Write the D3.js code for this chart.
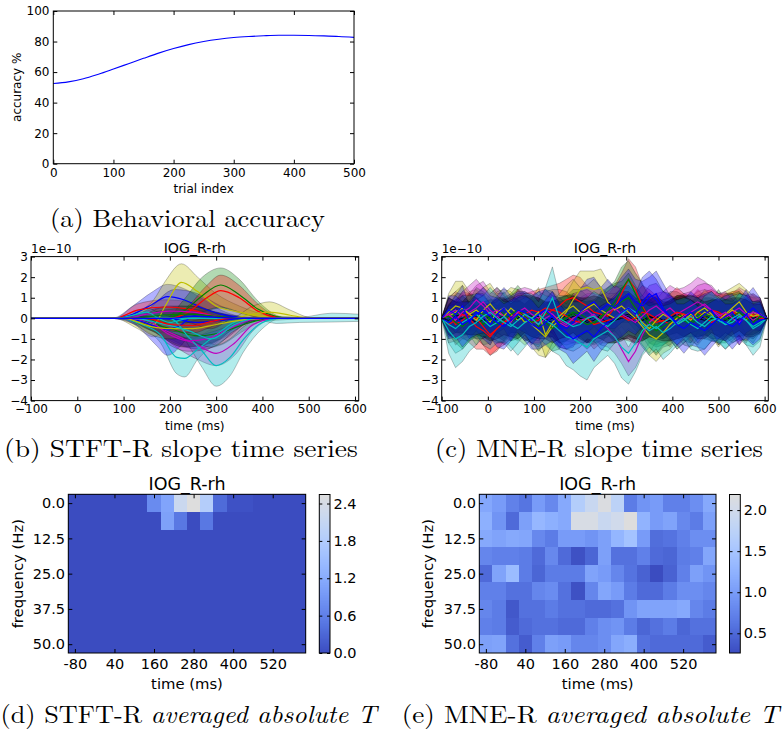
<!DOCTYPE html>
<html>
<head>
<meta charset="utf-8">
<script src="https://cdn.jsdelivr.net/npm/d3@7"></script>
<style>
  body { margin: 0; background: #fff; }
  svg { display: block; }
</style>
</head>
<body>
<svg id="fig" width="784" height="736"></svg>
<script>
// ===================== data =====================

// (a) behavioural accuracy over trials
const trialIndex  = [0,25,50,75,100,125,150,175,200,225,250,275,300,325,350,375,400,425,450,475,500];
const accuracyPct = [52.5,53.6,55.6,58.6,62.0,65.5,69.0,72.4,75.4,78.0,80.0,81.5,82.6,83.3,83.8,84.1,84.1,84.0,83.7,83.3,82.7];
const accTicksX = [0,100,200,300,400,500];
const accTicksY = [0,20,40,60,80,100];

// (b) STFT-R slope time series, knots [time ms, lower, mean, upper] in units of 1e-10
const slopeTicksX = [-100,0,100,200,300,400,500,600];
const slopeTicksY = [-4,-3,-2,-1,0,1,2,3];
const stftSeries = [
  {color:'b', knots:[[75,0,0,0],[120,-0.25,0.2,0.6],[160,-0.6,0.65,1.25],[195,-0.7,1.05,1.65],[230,-0.5,0.9,1.45],[270,-0.2,0.5,0.95],[310,0,0.2,0.4],[350,0,0.05,0.1],[380,0,0,0]]},
  {color:'g', knots:[[100,0,0,0],[150,-0.5,-0.2,0.1],[200,-1.0,-0.5,0],[260,-1.5,-0.85,-0.2],[310,-1.3,-0.7,-0.1],[360,-0.6,-0.3,0],[420,0,0,0]]},
  {color:'r', knots:[[80,0,0,0],[130,0.1,0.4,0.7],[190,0.2,0.55,0.9],[240,0.1,0.45,0.8],[290,0,0.15,0.35],[330,0,0,0]]},
  {color:'c', knots:[[90,0,0,0],[140,-0.5,-0.3,-0.1],[180,-1.2,-0.8,-0.4],[215,-2.7,-1.9,-1.0],[232,-2.85,-1.95,-1.1],[260,-2.0,-1.5,-0.9],[300,-1.2,-0.8,-0.4],[350,-0.3,-0.1,0],[400,0,0,0]]},
  {color:'m', knots:[[110,0,0,0],[160,-0.5,-0.3,-0.1],[220,-1.5,-0.9,-0.4],[260,-2.0,-1.3,-0.7],[300,-2.3,-1.7,-1.05],[340,-1.8,-1.2,-0.6],[380,-0.6,-0.3,0],[430,0,0,0]]},
  {color:'y', knots:[[80,0,0,0],[130,-0.5,-0.1,0.3],[165,-0.9,-0.3,0.9],[190,-0.5,0.6,1.8],[225,0.3,1.75,2.65],[260,0.2,1.3,2.0],[300,0.1,0.6,1.2],[350,0,0.3,0.6],[400,0,0.1,0.2],[440,0,0,0]]},
  {color:'b', knots:[[90,0,0,0],[150,-0.4,0,0.4],[210,-1.2,-0.05,1.4],[260,-1.5,-0.2,1.2],[310,-1.0,-0.1,0.6],[360,-0.3,0,0.2],[420,0,0,0]]},
  {color:'b', knots:[[80,0,0,0],[130,-0.4,-0.1,0.2],[170,-1.3,-0.4,0.3],[195,-1.8,-0.55,0.35],[225,-1.3,-0.3,0.4],[250,-0.6,0.1,0.6],[300,-0.2,0.08,0.3],[350,0,0.02,0.1],[400,0,0,0]]},
  {color:'g', knots:[[190,0,0,0],[230,0,0.35,0.9],[270,0.3,1.1,2.0],[310,0.5,1.62,2.45],[350,0.3,1.15,1.9],[390,0.05,0.45,0.85],[430,0,0.08,0.15],[460,0,0,0]]},
  {color:'r', knots:[[200,0,0,0],[240,0.05,0.3,0.6],[280,0.4,1.0,1.6],[310,0.55,1.35,2.1],[350,0.3,1.0,1.6],[390,0.05,0.35,0.7],[430,0,0.05,0.1],[460,0,0,0]]},
  {color:'c', knots:[[200,0,0,0],[240,-1.3,-0.9,-0.5],[270,-2.4,-1.6,-0.9],[300,-3.3,-2.3,-1.3],[330,-2.8,-1.9,-1.0],[360,-1.6,-1.0,-0.4],[400,-0.5,-0.2,0],[440,0,0,0]]},
  {color:'m', knots:[[100,0,0,0],[150,-0.3,-0.1,0.1],[200,-1.3,-0.8,-0.3],[240,-1.6,-1.1,-0.6],[280,-1.5,-1.0,-0.5],[320,-1.0,-0.6,-0.2],[370,-0.2,-0.1,0],[420,0,0,0]]},
  {color:'y', knots:[[100,0,0,0],[160,-0.8,-0.4,0],[200,-1.0,-0.5,0],[250,-0.9,-0.5,-0.1],[300,-0.6,-0.3,0],[350,-0.2,-0.1,0],[400,0,0,0]]},
  {color:'k', knots:[[90,0,0,0],[160,-0.6,-0.2,0.3],[230,-1.4,-0.5,0.5],[290,-1.2,-0.5,0.3],[340,-0.5,-0.2,0.1],[400,0,0,0]], noLine:true},
  {color:'c', knots:[[120,0,0,0],[180,-0.5,-0.25,0],[240,-1.0,-0.6,-0.2],[290,-1.4,-1.0,-0.5],[340,-0.6,-0.3,0],[390,0,0,0]]},
  {color:'y', knots:[[330,0,0,0],[380,-0.1,0.2,0.6],[415,-0.1,0.3,0.8],[460,-0.05,0.15,0.4],[500,0,0.02,0.05],[530,0,0,0]]},
  {color:'c', knots:[[380,0,0,0],[430,-0.25,0,0.1],[480,-0.2,0,0.05],[550,-0.18,0,0.25],[608,-0.15,0,0.2]]},
  {color:'m', knots:[[100,0,0,0],[150,0.05,0.2,0.35],[200,0.1,0.35,0.6],[250,0.1,0.3,0.55],[300,0,0.1,0.25],[350,0,0,0]]},
  {color:'c', knots:[[80,0,0,0],[120,0,0.15,0.3],[150,0.1,0.3,0.5],[175,-0.3,0,0.3],[200,-0.5,-0.2,0.1],[240,-0.2,0,0.2],[280,0,0,0]]},
  {color:'r', knots:[[150,0,0,0],[200,-0.6,-0.3,0],[250,-0.7,-0.35,0],[290,-0.4,-0.15,0],[330,0,0,0]]},
  {color:'g', knots:[[120,0,0,0],[180,-0.2,0.15,0.5],[240,-0.2,0.2,0.6],[300,-0.1,0.1,0.3],[360,0,0,0]]},
  {color:'b', knots:[[200,0,0,0],[250,0,0.1,0.2],[300,0,0.05,0.1],[350,0,0,0]]}
];

// (c) MNE-R slope time series: mean and half-width of the band, in units of 1e-11
const mneTimesMs = [-100,-85,-70,-55,-40,-25,-10,5,20,35,50,65,80,95,110,125,140,155,170,185,200,215,230,245,
                    260,275,290,305,320,335,350,365,380,395,410,425,440,455,470,485,500,515,530,545,560,575,590,605];
const mneSeries = [
  {color:'r',
   mean:[0,2,-3,-1,2,0,-4,-8,-5,-2, 1,3,2,4,3,5,4,6,9,10, 8,6,3,2,1,5,12,19,14,6, 0,-2,-1,-3,1,2,0,3,1,-2, 0,2,3,1,-1,2,0,0],
   half:[0,8,10,9,11,10,9,10,11,9, 10,11,10,9,11,10,12,11,10,11, 12,10,11,12,10,11,10,10,11,10, 12,11,10,11,10,9,10,11,10,9, 11,10,9,10,11,9,8,0]},
  {color:'y',
   mean:[0,3,6,5,2,4,1,-2,3,5, 2,-1,1,-3,-6,-9,-4,-1,3,9, 14,15,14,15,8,4,6,3,0,-4, -8,-10,-7,-3,0,2,-1,3,5,2, -2,1,4,2,-1,3,1,0],
   half:[0,9,12,13,11,10,9,11,10,9, 11,10,9,11,12,10,11,10,9,9, 9,8,9,9,10,11,10,11,10,9, 10,11,10,12,11,10,11,10,9,11, 12,10,9,11,10,9,8,0]},
  {color:'g',
   mean:[0,-2,3,1,-1,2,-3,0,4,2, -2,1,3,0,-4,-2,-5,-3,1,3, 2,0,-3,1,4,8,14,19,12,5, -1,-4,-2,1,3,0,-2,2,1,-1, 3,0,-2,1,2,-1,1,0],
   half:[0,8,9,11,10,9,10,12,11,10, 9,11,10,11,12,10,11,12,10,11, 12,11,10,12,11,10,11,9,10,12, 11,10,11,12,10,11,10,9,11,10, 11,9,10,11,10,9,8,0]},
  {color:'m',
   mean:[0,2,4,1,3,5,8,4,1,-2, 0,3,2,-1,-3,0,2,-2,-4,-3, -1,0,2,-2,-5,-9,-15,-21,-16,-8, -2,1,3,5,2,4,6,8,6,4, 2,0,3,5,2,-1,1,0],
   half:[0,8,9,10,9,11,10,9,10,11, 10,9,10,11,9,10,11,12,11,10, 11,12,10,11,9,8,7,7,8,9, 10,11,10,11,12,11,11,12,12,11, 10,11,9,10,11,9,8,0]},
  {color:'r',
   mean:[0,-3,-1,2,0,-4,-6,-9,-5,-2, 0,3,1,-2,-1,2,4,3,1,-1, -2,0,-3,-2,-1,0,1,-1,0,3, 2,0,-2,1,3,2,0,-1,2,4, 3,1,3,2,0,1,2,0],
   half:[0,9,10,11,12,11,9,9,10,11, 10,9,11,10,12,11,10,11,12,11, 10,11,12,10,11,12,11,10,12,13, 12,11,10,11,12,10,11,12,11,10, 9,11,10,12,11,9,8,0]},
  {color:'y',
   mean:[0,1,3,5,2,-1,4,7,3,1, 5,2,-2,0,3,-8,-2,1,4,6, 3,5,7,4,2,0,3,5,2,-2, -5,-1,2,0,-3,-1,2,0,3,1, -1,2,5,8,3,1,2,0],
   half:[0,9,10,11,10,12,11,10,9,11, 10,12,11,10,12,11,10,11,12,13, 12,11,12,11,10,12,11,10,9,11, 12,10,11,10,12,11,10,9,11,10, 12,11,10,9,11,10,8,0]},
  {color:'g',
   mean:[0,1,-2,-4,-1,3,2,0,-3,-1, 2,4,1,-2,0,3,1,-2,0,2, -1,-3,-2,0,3,6,8,10,5,1, -3,-6,-4,-2,1,-1,-3,0,2,1, -2,0,1,3,0,-2,1,0],
   half:[0,9,10,11,10,12,11,10,9,11, 10,12,11,10,9,11,10,12,11,10, 11,12,10,11,12,11,10,12,11,10, 11,12,10,11,10,12,11,10,9,11, 10,12,11,10,9,10,8,0]},
  {color:'m',
   mean:[0,2,-1,3,5,9,6,2,4,1, -2,3,5,2,0,4,2,-1,-3,0, 2,4,1,-1,3,5,2,0,-2,1, 4,6,3,0,-2,1,3,5,7,4, 1,3,0,-2,1,3,2,0],
   half:[0,8,9,10,11,10,9,10,11,10, 9,11,10,12,11,10,9,11,10,12, 11,10,11,12,10,11,12,10,11,10, 12,11,10,11,12,11,10,11,10,12, 11,10,9,11,10,9,8,0]},
  {color:'c',
   mean:[0,-3,-5,-2,0,2,-1,-4,-2,1, -3,-5,-2,0,2,-1,-3,-6,-9,-10, -12,-14,-10,-8,-6,-9,-14,-17,-12,-6, -3,-5,-2,0,-3,-1,1,-2,-4,-1, 0,-3,-2,1,-1,-4,-2,0],
   half:[0,9,12,13,11,10,12,11,10,12, 11,13,12,10,11,12,13,12,14,15, 16,16,14,13,12,13,15,15,14,12, 11,12,11,10,12,11,10,12,11,10, 11,12,10,11,12,10,9,0]},
  {color:'k',
   mean:[0,-1,1,2,0,-2,-1,1,0,-1, 2,1,-2,0,1,-1,0,-2,-1,1, 0,-2,-1,2,1,-1,0,1,-2,-1, 0,1,-1,0,2,1,0,-1,1,0, -1,1,0,-1,1,0,1,0],
   half:[0,8,8,9,8,8,9,8,9,10, 9,8,9,10,9,8,9,10,10,10, 9,10,10,10,9,10,10,11,10,10, 9,10,9,8,9,10,9,8,9,10, 9,8,9,8,9,8,7,0]},
  {color:'b',
   mean:[0,4,2,6,-2,3,1,-3,2,5, 0,4,3,-1,2,4,1,-3,-5,-2, 3,6,8,4,7,5,9,12,8,6, 10,12,5,1,-2,0,3,-1,2,4, -2,1,3,-3,2,5,2,0],
   half:[0,7,9,10,8,9,11,10,9,10, 11,9,10,12,11,10,12,11,10,12, 11,13,12,11,12,10,11,12,11,12, 10,11,12,10,11,9,10,11,10,9, 11,10,9,10,9,10,8,0]},
  {color:'c',
   mean:[0,-6,-10,-8,-4,-2,1,3,0,-2, -4,-1,2,0,-3,3,10,0,-2,-4, -3,0,1,-2,-4,-1,2,5,3,-3, -6,-4,-7,-5,-2,0,-3,-5,-2,1, -1,-3,0,2,-1,-5,-3,0],
   half:[0,11,14,13,12,11,10,12,11,10, 12,11,10,12,11,12,15,11,13,12, 11,10,12,13,12,11,12,13,12,11, 12,11,13,12,11,10,12,11,13,12, 11,12,11,10,12,13,11,0]},
  {color:'k',
   mean:[0,1,-1,0,2,1,-1,-2,0,1, -1,0,2,1,0,-1,-2,0,1,2, 0,-1,1,0,-2,-1,1,2,0,-1, 1,0,-2,-1,0,1,2,0,-1,1, 0,-1,1,2,0,-1,0,0],
   half:[0,9,9,8,10,9,8,9,10,9, 8,10,9,10,10,9,10,10,10,9, 10,11,10,10,10,11,12,11,10,10, 10,10,9,10,10,10,9,10,9,8, 9,10,9,8,9,8,7,0]},
  {color:'b',
   mean:[0,-2,1,-3,-1,2,4,1,-2,-4, -1,2,0,-3,-5,-2,1,-4,-7,-10, -8,-6,-9,-5,-2,0,3,5,2,8, 12,9,4,1,-3,-5,-2,-4,-6,-3, 0,-2,-4,-1,2,-3,-1,0],
   half:[0,8,10,11,9,10,11,10,12,11, 10,9,11,12,10,11,12,11,10,12, 11,10,12,11,10,11,12,11,10,12, 11,10,9,11,10,12,11,10,12,11, 10,9,11,10,12,10,9,0]}
];

// (d), (e) time-frequency maps of averaged absolute T (rows: frequency bins, columns: time bins)
const tfBinStartMs = [-100,-60,-20,20,60,100,140,180,220,260,300,340,380,420,460,500,540,580];
const tfBinWidthMs = 40;
const freqBinsHz = [0,6.25,12.5,18.75,25,31.25,37.5,43.75,50];
const freqBinWidthHz = 6.25;
const tfTicksMs = [-80,40,160,280,400,520];
const freqTicksHz = [0,12.5,25,37.5,50];
const stftAbsT = [
  [0,0,0,0,0,0,0.75,1.1,2.2,2.545,1.85,0.35,0.06,0.06,0,0,0,0],
  [0,0,0,0,0,0,0,1.05,0.5,0,0.5,0,0,0,0,0,0,0],
  [0,0,0,0,0,0,0,0,0,0,0,0,0,0,0,0,0,0],
  [0,0,0,0,0,0,0,0,0,0,0,0,0,0,0,0,0,0],
  [0,0,0,0,0,0,0,0,0,0,0,0,0,0,0,0,0,0],
  [0,0,0,0,0,0,0,0,0,0,0,0,0,0,0,0,0,0],
  [0,0,0,0,0,0,0,0,0,0,0,0,0,0,0,0,0,0],
  [0,0,0,0,0,0,0,0,0,0,0,0,0,0,0,0,0,0],
  [0,0,0,0,0,0,0,0,0,0,0,0,0,0,0,0,0,0]
];
const stftCbarTicks = [0,0.6,1.2,1.8,2.4];
const mneAbsT = [
  [1.13,1.0,0.73,0.61,1.0,0.8,1.15,1.65,1.9,2.15,1.76,0.68,0.92,1.0,0.72,0.72,0.86,1.15],
  [1.22,0.92,0.52,1.05,1.32,1.22,1.15,2.1,2.1,1.9,2.0,2.19,1.27,1.0,1.08,0.8,0.68,1.05],
  [1.15,1.08,1.15,1.12,0.8,0.68,1.0,1.0,0.92,1.05,1.3,1.48,1.0,0.55,0.6,0.72,0.86,0.86],
  [0.78,0.72,0.72,0.68,0.52,0.8,0.52,0.3,0.48,1.05,0.58,0.58,0.72,0.52,0.48,0.68,0.72,1.12],
  [0.52,1.08,1.38,0.68,0.48,0.68,0.68,0.68,1.08,1.0,0.78,0.6,0.45,0.26,0.45,0.72,1.05,0.92],
  [0.72,0.72,0.58,0.58,0.78,0.84,0.58,0.3,0.78,1.12,1.0,0.68,0.52,0.52,0.68,0.86,0.86,0.78],
  [0.78,0.68,0.36,0.58,0.58,0.68,0.58,0.58,0.52,0.52,0.58,0.92,1.08,1.08,1.08,1.15,0.78,0.68],
  [0.72,0.68,0.4,0.52,0.58,0.58,0.52,0.52,0.72,0.86,0.92,0.68,0.48,0.58,0.68,0.48,0.58,0.58],
  [1.05,1.08,0.58,0.4,0.72,1.05,1.0,0.78,0.78,0.86,1.12,1.2,0.58,0.52,0.52,0.52,0.52,0.4]
];
const mneCbarTicks = [0.5,1.0,1.5,2.0];

// ===================== styling =====================
const SANS = '"DejaVu Sans", sans-serif';
const SERIF = '"Latin Modern Roman", "CMU Serif", "Liberation Serif", serif';
const COLORS = {b:'#0000ff', g:'#008000', r:'#ff0000', c:'#00bfbf', m:'#bf00bf', y:'#bfbf00', k:'#000000'};
// lower half of the cool-warm diverging map (blue to neutral grey)
const coolHalf = ['#3b4cc0','#445acc','#4d68d7','#5776e2','#6282ea','#6c8ef1','#779af7','#82a5fb',
                  '#8db0fe','#98b9ff','#a3c2ff','#aec9fd','#b8d0f9','#c2d5f4','#ccd9ee','#d5dbe6','#dddddd'];
const coolInterp = d3.piecewise(d3.interpolateRgb, coolHalf);

const svg = d3.select('#fig');
svg.append('rect').attr('width', 784).attr('height', 736).attr('fill', '#fff');

function styleAxis(sel, fs) {
  sel.select('.domain').remove();
  sel.attr('font-family', SANS).attr('font-size', fs);
  sel.selectAll('.tick line').attr('stroke', '#000').attr('stroke-width', 1);
  sel.selectAll('.tick text').attr('fill', '#000');
}

// box with inward ticks on all four sides
function boxAxes(g, xs, ys, o) {
  const [x0, x1] = xs.range();
  const [yb, yt] = ys.range();
  const len = o.tickLen || 4;
  g.append('g').attr('transform', `translate(0,${yb})`)
    .call(d3.axisBottom(xs).tickValues(o.xTicks).tickFormat(o.xFmt).tickSize(-len).tickPadding(o.xPad))
    .call(s => styleAxis(s, o.fs));
  g.append('g').attr('transform', `translate(0,${yt})`)
    .call(d3.axisTop(xs).tickValues(o.xTicks).tickFormat('').tickSize(-len))
    .call(s => styleAxis(s, o.fs));
  g.append('g').attr('transform', `translate(${x0},0)`)
    .call(d3.axisLeft(ys).tickValues(o.yTicks).tickFormat(o.yFmt).tickSize(-len).tickPadding(o.yPad))
    .call(s => styleAxis(s, o.fs));
  g.append('g').attr('transform', `translate(${x1},0)`)
    .call(d3.axisRight(ys).tickValues(o.yTicks).tickFormat('').tickSize(-len))
    .call(s => styleAxis(s, o.fs));
  g.append('rect').attr('x', x0).attr('y', yt).attr('width', x1 - x0).attr('height', yb - yt)
    .attr('fill', 'none').attr('stroke', '#000').attr('stroke-width', 1);
}

function label(txt, x, y, fs, opts = {}) {
  const t = svg.append('text').attr('font-family', SANS).attr('font-size', fs)
    .attr('fill', '#000').attr('text-anchor', opts.anchor || 'middle').text(txt);
  if (opts.rotate) t.attr('transform', `translate(${x},${y}) rotate(-90)`);
  else t.attr('x', x).attr('y', y);
  return t;
}

function caption(parts, x, baseline, width) {
  const t = svg.append('text').attr('font-family', SERIF).attr('font-size', 25).attr('fill', '#000');
  parts.forEach(p => t.append('tspan').attr('font-style', p.it ? 'italic' : 'normal').text(p.s));
  const w = t.node().getBBox().width;
  t.attr('transform', `translate(${x},${baseline}) scale(${width / w},1)`);
}

// ===================== (a) behavioural accuracy =====================
{
  const g = svg.append('g');
  const x = d3.scaleLinear().domain([0, 500]).range([53.3, 354]);
  const y = d3.scaleLinear().domain([0, 100]).range([163.7, 11]);
  g.append('path')
    .attr('d', d3.line().x((d, i) => x(trialIndex[i])).y(d => y(d)).curve(d3.curveMonotoneX)(accuracyPct))
    .attr('fill', 'none').attr('stroke', '#0000ff').attr('stroke-width', 1.1);
  boxAxes(g, x, y, {xTicks: accTicksX, yTicks: accTicksY, xFmt: d3.format('d'), yFmt: d3.format('d'),
                    fs: 12, xPad: 4.5, yPad: 3.8});
  label('trial index', 203.6, 193, 12);
  label('accuracy %', 20.5, 87.3, 12, {rotate: true});
  caption([{s: '(a) Behavioral accuracy'}], 50, 227, 275);
}

// ===================== (b), (c) slope time series =====================
function slopePanel(x0, x1, drawBands, drawLines, clipId) {
  const g = svg.append('g');
  const x = d3.scaleLinear().domain([-100, 608]).range([x0, x1]);
  const y = d3.scaleLinear().domain([-4, 3]).range([400.6, 256.6]);
  g.append('clipPath').attr('id', clipId).append('rect')
    .attr('x', x0).attr('y', 256.6).attr('width', x1 - x0).attr('height', 144);
  const plot = g.append('g').attr('clip-path', `url(#${clipId})`);
  drawBands(plot.append('g'), x, y);
  drawLines(plot.append('g'), x, y);
  boxAxes(g, x, y, {xTicks: slopeTicksX, yTicks: slopeTicksY, xFmt: d3.format('d'), yFmt: d3.format('d'),
                    fs: 12, xPad: 4, yPad: 3});
  const cx = (x0 + x1) / 2;
  label('IOG_R-rh', cx, 253, 14.2);
  label('1e\u221210', x0, 253, 12, {anchor: 'start'});
  label('time (ms)', cx, 429.5, 12.3);
}

// pad knots with the zero baseline at both ends of the time axis
function padded(knots) {
  const k = knots.slice();
  if (k[0][0] > -100) k.unshift([-100, 0, 0, 0]);
  if (k[k.length - 1][0] < 608) k.push([608, 0, 0, 0]);
  return k;
}

slopePanel(31, 358.7,
  (g, x, y) => {
    const area = d3.area().x(d => x(d[0])).y0(d => y(d[1])).y1(d => y(d[3])).curve(d3.curveMonotoneX);
    stftSeries.forEach(s => g.append('path').attr('d', area(padded(s.knots)))
      .attr('fill', COLORS[s.color]).attr('fill-opacity', 0.3)
      .attr('stroke', '#000').attr('stroke-opacity', 0.3).attr('stroke-width', 0.8));
  },
  (g, x, y) => {
    const line = d3.line().x(d => x(d[0])).y(d => y(d[2])).curve(d3.curveMonotoneX);
    stftSeries.filter(s => !s.noLine).forEach(s => g.append('path').attr('d', line(padded(s.knots)))
      .attr('fill', 'none').attr('stroke', COLORS[s.color]).attr('stroke-width', 1.2));
  }, 'clipB');

slopePanel(441.7, 768.3,
  (g, x, y) => {
    mneSeries.forEach(s => {
      const area = d3.area().x((d, i) => x(mneTimesMs[i]))
        .y0(d => y((d[0] - d[1]) / 10)).y1(d => y((d[0] + d[1]) / 10));
      g.append('path').attr('d', area(s.mean.map((m, i) => [m, s.half[i]])))
        .attr('fill', COLORS[s.color]).attr('fill-opacity', 0.3)
        .attr('stroke', '#000').attr('stroke-opacity', 0.3).attr('stroke-width', 0.8);
    });
  },
  (g, x, y) => {
    const line = d3.line().x((d, i) => x(mneTimesMs[i])).y(d => y(d / 10));
    // dark mean lines go underneath the coloured ones
    const ordered = mneSeries.filter(s => s.color === 'k').concat(mneSeries.filter(s => s.color !== 'k'));
    ordered.forEach(s => g.append('path').attr('d', line(s.mean))
      .attr('fill', 'none').attr('stroke', COLORS[s.color])
      .attr('stroke-width', s.color === 'k' ? 0.9 : 1.2));
  }, 'clipC');

caption([{s: '(b) STFT-R slope time series'}], 4, 457, 354);
caption([{s: '(c) MNE-R slope time series'}], 435, 457, 328);

// ===================== (d), (e) time-frequency maps =====================
function tfPanel(values, x0, x1, cb0, cb1, cbarTicks, yLabelX) {
  const g = svg.append('g');
  const x = d3.scaleLinear().domain([-100, 620]).range([x0, x1]);
  const y = d3.scaleLinear().domain([53.125, -3.125]).range([653, 494.3]);
  const ext = d3.extent(values.flat());
  const color = d3.scaleSequential(coolInterp).domain(ext);
  const cells = g.append('g').attr('shape-rendering', 'crispEdges');
  values.forEach((row, i) => row.forEach((v, j) => {
    const ta = tfBinStartMs[j], tb = ta + tfBinWidthMs;
    const fa = freqBinsHz[i] - freqBinWidthHz / 2, fb = freqBinsHz[i] + freqBinWidthHz / 2;
    cells.append('rect').attr('x', x(ta)).attr('width', x(tb) - x(ta) + 0.3)
      .attr('y', y(fa)).attr('height', y(fb) - y(fa) + 0.3).attr('fill', color(v));
  }));
  boxAxes(g, x, y, {xTicks: tfTicksMs, yTicks: freqTicksHz, xFmt: d => String(d), yFmt: d3.format('.1f'),
                    fs: 14.5, xPad: 6, yPad: 3.3});
  const cx = (x0 + x1) / 2;
  label('IOG_R-rh', cx, 490, 17.5);
  label('time (ms)', cx, 689, 14.8);
  label('frequency (Hz)', yLabelX, 573.7, 14.8, {rotate: true});

  // colour bar
  const cy = d3.scaleLinear().domain(ext).range([653, 494.5]);
  const steps = d3.range(0, 256).map(k => ext[0] + (ext[1] - ext[0]) * k / 255);
  const bar = g.append('g').attr('shape-rendering', 'crispEdges');
  const dv = (ext[1] - ext[0]) / 255;
  steps.forEach(v => bar.append('rect').attr('x', cb0).attr('width', cb1 - cb0)
    .attr('y', cy(Math.min(v + dv / 2, ext[1]))).attr('height', Math.abs(cy(Math.max(v - dv / 2, ext[0])) - cy(Math.min(v + dv / 2, ext[1]))) + 0.4)
    .attr('fill', color(v)));
  g.append('g').attr('transform', `translate(${cb1},0)`)
    .call(d3.axisRight(cy).tickValues(cbarTicks).tickFormat(d3.format('.1f')).tickSize(-3).tickPadding(3.5))
    .call(s => styleAxis(s, 14.5));
  g.append('g').attr('transform', `translate(${cb0},0)`)
    .call(d3.axisLeft(cy).tickValues(cbarTicks).tickFormat('').tickSize(-3))
    .call(s => styleAxis(s, 14.5));
  g.append('rect').attr('x', cb0).attr('y', 494.5).attr('width', cb1 - cb0).attr('height', 653 - 494.5)
    .attr('fill', 'none').attr('stroke', '#000').attr('stroke-width', 1);
}

tfPanel(stftAbsT, 68.3, 305.7, 319.3, 330, stftCbarTicks, 22.6);
tfPanel(mneAbsT, 479.3, 716, 729.5, 740.3, mneCbarTicks, 433.3);

caption([{s: '(d) STFT-R '}, {s: 'averaged absolute T', it: true}], 0.5, 723, 379.5);
caption([{s: '(e) MNE-R '}, {s: 'averaged absolute T', it: true}], 401.7, 723, 381);
</script>
</body>
</html>
